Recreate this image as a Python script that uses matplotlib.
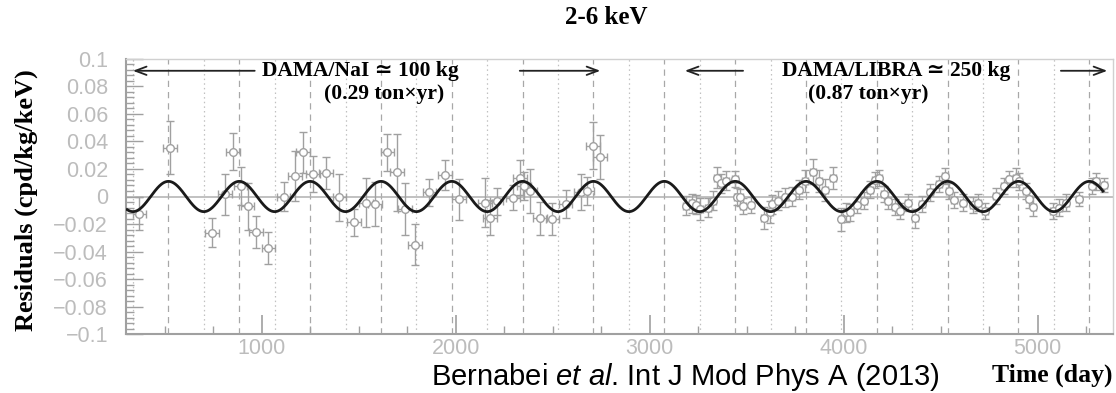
import numpy as np
import matplotlib
matplotlib.use("Agg")
import matplotlib.pyplot as plt
from matplotlib.ticker import MultipleLocator, FixedFormatter

plt.rcParams["mathtext.fontset"] = "custom"
plt.rcParams["mathtext.rm"] = "Liberation Sans"
plt.rcParams["mathtext.it"] = "Liberation Sans:italic"

# DAMA/NaI residuals (day, residual, error)
nai_day = [368, 527, 741, 809, 851, 890, 926, 969, 1033, 1112, 1169, 1213, 1262,
           1329, 1399, 1475, 1537, 1583, 1647, 1695, 1738, 1789, 1863, 1945, 2016,
           2150, 2176, 2210, 2293, 2331, 2351, 2381, 2434, 2497, 2566, 2644, 2678,
           2707, 2742]
nai_res = [-0.0124, 0.0356, -0.0262, 0.0015, 0.0327, 0.0078, -0.0070, -0.0257,
           -0.0376, 0.0000, 0.0150, 0.0320, 0.0162, 0.0170, -0.0007, -0.0187,
           -0.0044, -0.0056, 0.0320, 0.0175, -0.0090, -0.0350, 0.0030, 0.0155,
           -0.0020, -0.0044, -0.0153, -0.0036, -0.0010, 0.0138, 0.0078, 0.0040,
           -0.0158, -0.0165, -0.0056, 0.0030, 0.0040, 0.0368, 0.0290]
nai_err = [0.012, 0.019, 0.0104, 0.015, 0.0133, 0.014, 0.017, 0.0118, 0.0118,
           0.0103, 0.018, 0.015, 0.013, 0.0115, 0.017, 0.0097, 0.018, 0.016,
           0.0133, 0.028, 0.019, 0.015, 0.010, 0.011, 0.015, 0.018, 0.013, 0.010,
           0.009, 0.013, 0.010, 0.016, 0.012, 0.0115, 0.010, 0.013, 0.010, 0.017,
           0.016]

# DAMA/LIBRA residuals
libra_day = [3188, 3215, 3240, 3257, 3300, 3325, 3348, 3369, 3394, 3438, 3450,
             3463, 3480, 3524, 3589, 3618, 3632, 3661, 3699, 3733, 3768, 3799,
             3842, 3871, 3902, 3945, 3988, 4010, 4034, 4068, 4103, 4137, 4163,
             4180, 4206, 4228, 4266, 4292, 4331, 4366, 4404, 4446, 4489, 4520,
             4544, 4570, 4613, 4665, 4691, 4730, 4785, 4828, 4854, 4889, 4905,
             4937, 4953, 4978, 5078, 5112, 5146, 5211, 5280, 5301, 5344]
libra_res = [-0.0068, -0.0050, -0.0060, -0.0092, -0.0080, -0.0030, 0.0138, 0.0095,
             0.0114, 0.0126, 0.0000, -0.0007, -0.0068, -0.0060, -0.0158, -0.0116,
             -0.0056, -0.0030, -0.0007, 0.0000, 0.0050, 0.0110, 0.0180, 0.0110,
             0.0046, 0.0133, -0.0165, -0.0116, -0.0116, -0.0060, -0.0030, 0.0050,
             0.0120, 0.0133, 0.0017, -0.0030, -0.0075, -0.0104, -0.0044, -0.0158,
             -0.0056, 0.0030, 0.0090, 0.0150, 0.0040, -0.0027, -0.0044, -0.0060,
             -0.0044, -0.0104, 0.0005, 0.0078, 0.0126, 0.0138, 0.0110, 0.0040,
             -0.0020, -0.0075, -0.0104, -0.0080, -0.0044, -0.0020, 0.0078, 0.0110,
             0.0085]
libra_err = [0.007, 0.007, 0.007, 0.008, 0.007, 0.007, 0.0075, 0.007, 0.007,
             0.006, 0.006, 0.006, 0.006, 0.006, 0.008, 0.008, 0.007, 0.007, 0.007,
             0.007, 0.007, 0.008, 0.009, 0.008, 0.008, 0.008, 0.0085, 0.007, 0.006,
             0.006, 0.006, 0.006, 0.006, 0.006, 0.006, 0.006, 0.006, 0.006, 0.006,
             0.007, 0.006, 0.006, 0.006, 0.006, 0.006, 0.006, 0.006, 0.006, 0.006,
             0.006, 0.006, 0.006, 0.006, 0.007, 0.006, 0.006, 0.006, 0.007, 0.006,
             0.006, 0.006, 0.005, 0.006, 0.006, 0.005]

NAI_XERR = 35
LIBRA_XERR = 15

# cosine fit: A cos(2pi/T (t - t0))
AMP = 0.0110
PERIOD = 365.25
T0 = 152.5
T_START, T_END = 305, 5336

ytick_vals = [-0.1, -0.08, -0.06, -0.04, -0.02, 0, 0.02, 0.04, 0.06, 0.08, 0.1]
ytick_labels = ["\u22120.1", "\u22120.08", "\u22120.06", "\u22120.04", "\u22120.02",
                "0", "0.02", "0.04", "0.06", "0.08", "0.1"]

SERIF = ["Liberation Serif", "DejaVu Serif"]
GRAY = "#a0a0a0"

fig = plt.figure(figsize=(11.16, 3.93), dpi=100)
ax = fig.add_axes([0.1129, 0.150, 0.8844, 0.700])

ax.set_xlim(299, 5388)
ax.set_ylim(-0.1, 0.1)

# vertical guide lines: dashed at maxima, dotted at minima
for n in range(0, 15):
    tpk = T0 + n * PERIOD
    if 299 < tpk < 5388:
        ax.axvline(tpk, color="#a8a8a8", lw=0.9, ls=(0, (5, 4)), zorder=1)
    tmin = tpk + PERIOD / 2
    if 299 < tmin < 5388:
        ax.axvline(tmin, color="#c0c0c0", lw=0.9, ls=(0, (1.2, 2.5)), zorder=1)

ax.axhline(0, color="#b0b0b0", lw=1.1, zorder=1)

ebkw = dict(fmt="o", mfc="white", mec=GRAY, ecolor=GRAY, ms=5.5, mew=1.0,
            elinewidth=1.0, capsize=3, capthick=1.0, zorder=3)
ax.errorbar(nai_day, nai_res, yerr=nai_err, xerr=NAI_XERR, **ebkw)
ax.errorbar(libra_day, libra_res, yerr=libra_err, xerr=LIBRA_XERR, **ebkw)

t = np.linspace(T_START, T_END, 2000)
ax.plot(t, AMP * np.cos(2 * np.pi / PERIOD * (t - T0)), color="#1a1a1a", lw=2.0, zorder=4)

# axes styling (ROOT-like)
for side in ["left", "bottom"]:
    ax.spines[side].set_color("#a0a0a0")
    ax.spines[side].set_linewidth(1.5)
for side in ["top", "right"]:
    ax.spines[side].set_color("#d0d0d0")
    ax.spines[side].set_linewidth(1.0)

ax.set_yticks(ytick_vals)
ax.yaxis.set_major_formatter(FixedFormatter(ytick_labels))
ax.yaxis.set_minor_locator(MultipleLocator(0.004))
ax.xaxis.set_major_locator(MultipleLocator(1000))
ax.xaxis.set_minor_locator(MultipleLocator(250))
ax.tick_params(axis="both", which="both", direction="in", color="#a0a0a0",
               labelcolor="#bcbcbc", labelsize=15.5, top=False, right=False)
ax.tick_params(axis="x", which="major", length=14, width=1.2, pad=3)
ax.tick_params(axis="x", which="minor", length=6, width=1.0)
ax.tick_params(axis="y", which="major", length=12, width=1.0, pad=13)
ax.tick_params(axis="y", which="minor", length=6, width=1.0)
for lab in ax.get_xticklabels() + ax.get_yticklabels():
    lab.set_family("Liberation Sans")

# labels
fig.text(0.024, 0.49, "Residuals (cpd/kg/keV)", rotation=90, ha="center", va="center",
         family=SERIF, fontweight="bold", fontsize=19)
fig.text(0.543, 0.955, "2-6 keV", ha="center", va="center",
         family=SERIF, fontweight="bold", fontsize=18)
fig.text(0.997, 0.046, "Time (day)", ha="right", va="center",
         family=SERIF, fontweight="bold", fontsize=18.5)
fig.text(0.386, 0.040, "Bernabei $\\it{et\\ al}$. Int J Mod Phys A (2013)", ha="left",
         va="center", family="Liberation Sans", fontsize=21, color="black")

# dataset annotations
ax.text(1506, 0.0914, "DAMA/NaI \u2243 100 kg", ha="center", va="center",
        family=SERIF, fontweight="bold", fontsize=15.5)
ax.text(1629, 0.0747, "(0.29 ton\u00d7yr)", ha="center", va="center",
        family=SERIF, fontweight="bold", fontsize=15.5)
ax.text(4270, 0.0914, "DAMA/LIBRA \u2243 250 kg", ha="center", va="center",
        family=SERIF, fontweight="bold", fontsize=15.5)
ax.text(4125, 0.0747, "(0.87 ton\u00d7yr)", ha="center", va="center",
        family=SERIF, fontweight="bold", fontsize=15.5)

arrows = [(977, 320), (2315, 2759), (3495, 3166), (5105, 5373)]
for x0, x1 in arrows:
    ax.annotate("", xy=(x1, 0.0914), xytext=(x0, 0.0914),
                arrowprops=dict(arrowstyle="->,head_length=0.8,head_width=0.3",
                                color="#222222", lw=1.3))

fig.savefig("out.png", dpi=100)
